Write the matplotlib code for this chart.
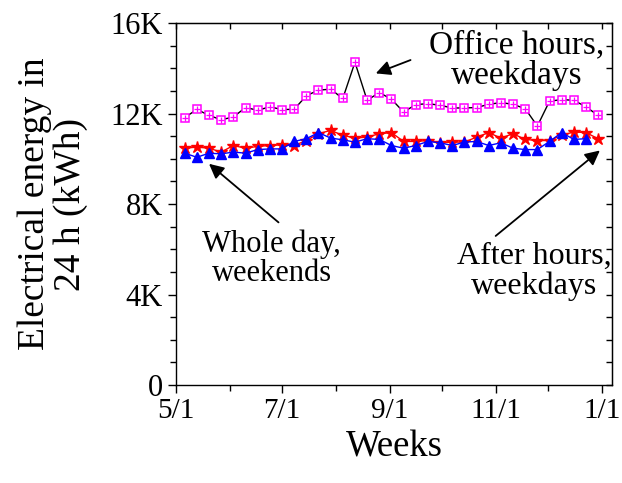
import matplotlib
matplotlib.use('Agg')
import matplotlib.pyplot as plt
import matplotlib.dates as mdates
from matplotlib.ticker import MultipleLocator, FuncFormatter
import pandas as pd

plt.rcParams['font.family'] = ['Liberation Serif', 'DejaVu Serif']
plt.rcParams['font.size'] = 20

# weekly samples, first week starting 2013-05-06
weeks = pd.date_range('2013-05-06', periods=35, freq='7D')

office_weekdays = [11.82, 12.19, 11.92, 11.73, 11.85, 12.27, 12.15, 12.30, 12.18, 12.19,
                   12.79, 13.04, 13.08, 12.67, 14.27, 12.59, 12.93, 12.64, 12.07, 12.40,
                   12.44, 12.37, 12.25, 12.25, 12.27, 12.41, 12.49, 12.41, 12.22, 11.45,
                   12.55, 12.62, 12.59, 12.30, 11.92]
after_weekdays = [10.47, 10.52, 10.47, 10.30, 10.59, 10.47, 10.55, 10.59, 10.62, 10.59,
                  10.81, 11.11, 11.26, 11.04, 10.92, 10.96, 11.11, 11.16, 10.77, 10.77,
                  10.81, 10.71, 10.74, 10.74, 10.96, 11.16, 10.92, 11.11, 10.86, 10.81,
                  10.81, 11.04, 11.19, 11.16, 10.89]
whole_weekends = [10.25, 10.07, 10.25, 10.22, 10.30, 10.25, 10.41, 10.44, 10.44, 10.77,
                  10.89, 11.16, 10.92, 10.84, 10.74, 10.89, 10.86, 10.59, 10.47, 10.59,
                  10.77, 10.71, 10.59, 10.74, 10.77, 10.59, 10.71, 10.47, 10.41, 10.41,
                  10.77, 11.16, 10.86, 10.89]

office = [v * 1000 for v in office_weekdays]
after = [v * 1000 for v in after_weekdays]
whole = [v * 1000 for v in whole_weekends]

fig = plt.figure(figsize=(6.22, 4.83), dpi=100)
ax = fig.add_axes([0.283, 0.203, 0.701, 0.749])

ax.plot(weeks, office, color='black', lw=1, zorder=2)
ax.plot(weeks, office, ls='none', marker='s', ms=6, mfc='white', mec='#ff00ff', mew=1.1, zorder=3)
ax.plot(weeks, office, ls='none', marker='+', ms=5, mec='#ff00ff', mew=0.9, zorder=3)
ax.plot(weeks, after, color='red', lw=1, marker='*', ms=9, zorder=4)
ax.plot(weeks[:len(whole)], whole, color='blue', lw=1, marker='^', ms=7.5, zorder=5)

x0 = mdates.date2num(pd.Timestamp('2013-05-01'))
x1 = mdates.date2num(pd.Timestamp('2014-01-07'))
ax.set_xlim(x0, x1)
ax.set_ylim(0, 16000)

major_x = [mdates.date2num(pd.Timestamp(d)) for d in ['2013-05-01', '2013-07-01', '2013-09-01', '2013-11-01', '2014-01-01']]
minor_x = [mdates.date2num(pd.Timestamp(d)) for d in ['2013-06-01', '2013-08-01', '2013-10-01', '2013-12-01']]
ax.set_xticks(major_x)
ax.set_xticks(minor_x, minor=True)
ax.set_xticklabels(['5/1', '7/1', '9/1', '11/1', '1/1'])

ax.yaxis.set_major_locator(MultipleLocator(4000))
ax.yaxis.set_minor_locator(MultipleLocator(1000))
ax.yaxis.set_major_formatter(FuncFormatter(lambda v, p: '0' if v == 0 else '%dK' % (v / 1000)))

ax.tick_params(which='major', direction='out', length=6, width=1, labelsize=21)
ax.tick_params(axis='y', which='major', labelsize=22)
ax.tick_params(which='minor', direction='out', length=4, width=1)
for s in ax.spines.values():
    s.set_linewidth(1)

right = ax.secondary_yaxis('right')
right.yaxis.set_major_locator(MultipleLocator(1000))
right.tick_params(direction='in', length=4, width=1, labelright=False)
top = ax.secondary_xaxis('top')
top.set_xticks(major_x + minor_x)
top.tick_params(direction='in', length=4, width=1, labeltop=False)

ax.set_xlabel('Weeks', fontsize=26.5, labelpad=4)
ax.set_ylabel('Electrical energy in\n24 h (kWh)', fontsize=27, labelpad=16, linespacing=1.05)

def d(s):
    return mdates.date2num(pd.Timestamp(s))

arrow = dict(arrowstyle='-|>', color='black', lw=1.3, mutation_scale=22, shrinkA=0, shrinkB=0)
ax.annotate('', xy=(d('2013-08-24'), 13780), xytext=(d('2013-09-13'), 14370), arrowprops=arrow)
ax.text(d('2013-11-13'), 14356, 'Office hours,\nweekdays', ha='center', va='center', fontsize=24, linespacing=1.0)
ax.annotate('', xy=(d('2013-05-20'), 9780), xytext=(d('2013-06-29'), 7190), arrowprops=arrow)
ax.text(d('2013-06-25'), 5560, 'Whole day,\nweekends', ha='center', va='center', fontsize=22, linespacing=1.0)
ax.annotate('', xy=(d('2013-12-31'), 10370), xytext=(d('2013-11-01'), 6590), arrowprops=arrow)
ax.text(d('2013-11-23'), 5020, 'After hours,\nweekdays', ha='center', va='center', fontsize=23, linespacing=1.0)

fig.savefig('out.png', dpi=100)
